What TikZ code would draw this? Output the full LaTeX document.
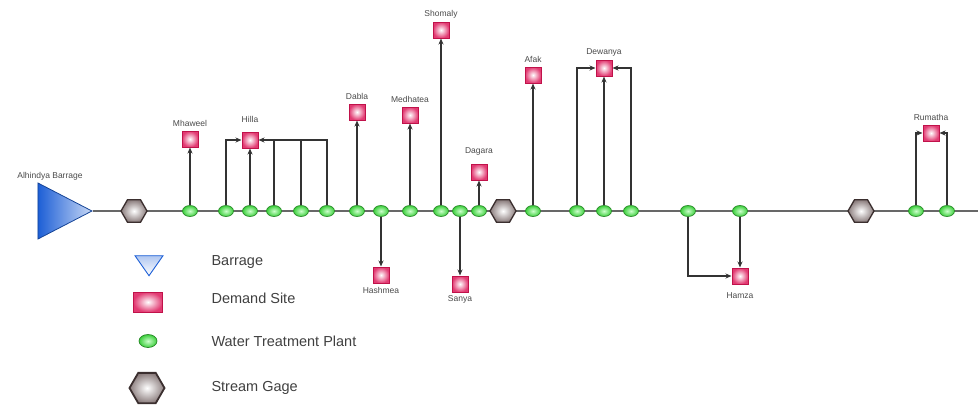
\documentclass[tikz,border=0pt]{standalone}
\usepackage{fontspec}
\setmainfont{Liberation Sans}
\usepackage{tikz}
\usetikzlibrary{positioning,arrows.meta,shapes.geometric,calc}
\usepackage{xcolor}
\definecolor{riverline}{HTML}{686868}
\definecolor{siteborder}{HTML}{C0124A}
\definecolor{sitefill}{HTML}{E23A72}
\definecolor{plantborder}{HTML}{2A8A2A}
\definecolor{plantfill}{HTML}{3CCF3C}
\definecolor{gageborder}{HTML}{3B2F2F}
\definecolor{gagefill}{HTML}{8A7C7C}
\definecolor{barrageblue}{HTML}{1D5FD6}
\definecolor{labelgray}{HTML}{4A4A4A}

\begin{document}
\begin{tikzpicture}[
    x=1pt, y=-1pt,
    font=\fontsize{9}{10}\selectfont,
    river/.style={draw=riverline, line width=2.4pt},
    flow/.style={draw=black!80, line width=1.3pt, -{Stealth[length=6pt,width=5pt]}},
    feed/.style={draw=black!80, line width=1.3pt},
    site/.style={rectangle, draw=siteborder, line width=1pt, inner color=white, outer color=sitefill, minimum size=16pt, inner sep=0pt},
    plant/.style={ellipse, draw=plantborder, line width=0.7pt, inner color=green!20!white, outer color=plantfill, minimum width=15pt, minimum height=11pt, inner sep=0pt},
    gage/.style={regular polygon, regular polygon sides=6, draw=gageborder, line width=1.3pt, inner color=white, outer color=gagefill, minimum size=26pt, inner sep=0pt},
    barrage/.style={isosceles triangle, isosceles triangle stretches, draw=barrageblue!70!black, line width=0.8pt, left color=barrageblue, right color=barrageblue!25!white, inner sep=0pt},
    lbl/.style={text=labelgray, font=\fontsize{8.5}{10}\selectfont},
    legendtext/.style={anchor=west, text=black!75, font=\fontsize{14.5}{16}\selectfont}
]
    \useasboundingbox (0,0) rectangle (978,405);

    % 1. Barrage e asse del fiume
    \node[barrage, shape border rotate=0, minimum width=56pt, minimum height=54pt, anchor=apex] (barrage) at (93,211) {};
    \node[lbl] (barragelabel) at (50,176) {Alhindya Barrage};
    \coordinate (riverend) at (978,211);
    \draw[river] (barrage.apex) -- (riverend);

    % 2. Stream gages
    \node[gage] (g1) at (134,211) {};
    \node[gage] (g2) at (503,211) {};
    \node[gage] (g3) at (861,211) {};

    % 3. Water treatment plants lungo il fiume
    \foreach \x [count=\i] in {190,226,250,274,301,327,357,381,410,441,460,479,533,577,604,631,688,740,916,947}
        \node[plant] (w\i) at (\x,211) {};

    % =========================================================================
    % DEMAND SITES
    % =========================================================================
    \node[site, label={[lbl]above:Mhaweel}] (mhaweel) at (190,139) {};
    \node[site, label={[lbl, label distance=5pt]above:Hilla}] (hilla) at (250,140) {};
    \node[site, label={[lbl]above:Dabla}] (dabla) at (357,112) {};
    \node[site, label={[lbl]above:Medhatea}] (medhatea) at (410,115) {};
    \node[site, label={[lbl]above:Shomaly}] (shomaly) at (441,30) {};
    \node[site, label={[lbl, label distance=5pt]above:Dagara}] (dagara) at (479,172) {};
    \node[site, label={[lbl]below:Hashmea}] (hashmea) at (381,275) {};
    \node[site, label={[lbl]below:Sanya}] (sanya) at (460,284) {};
    \node[site, label={[lbl]above:Afak}] (afak) at (533,75) {};
    \node[site, label={[lbl]above:Dewanya}] (dewanya) at (604,68) {};
    \node[site, label={[lbl, label distance=5pt]below:Hamza}] (hamza) at (740,276) {};
    \node[site, label={[lbl]above:Rumatha}] (rumatha) at (931,133) {};

    % --- Collegamenti WTP -> Demand Site ---
    \draw[flow] (w1) -- (mhaweel);
    \draw[flow] (w2) |- (hilla);
    \draw[flow] (w3) -- (hilla);
    \draw[feed] (w4) -- (w4 |- hilla);
    \draw[feed] (w5) -- (w5 |- hilla);
    \draw[flow] (w6) |- (hilla);
    \draw[flow] (w7) -- (dabla);
    \draw[flow] (w8) -- (hashmea);
    \draw[flow] (w9) -- (medhatea);
    \draw[flow] (w10) -- (shomaly);
    \draw[flow] (w11) -- (sanya);
    \draw[flow] (w12) -- (dagara);
    \draw[flow] (w13) -- (afak);
    \draw[flow] (w14) |- (dewanya);
    \draw[flow] (w15) -- (dewanya);
    \draw[flow] (w16) |- (dewanya);
    \draw[flow] (w17) |- (hamza);
    \draw[flow] (w18) -- (hamza);
    \draw[flow] (w19) |- (rumatha);
    \draw[flow] (w20) |- (rumatha);

    % =========================================================================
    % LEGENDA
    % =========================================================================
    \node[isosceles triangle, isosceles triangle stretches, shape border rotate=-90, minimum width=28pt, minimum height=20pt, inner sep=0pt, draw=barrageblue, line width=0.9pt, top color=barrageblue!35!white, bottom color=white] (legbarrage) at (149,263) {};
    \node[legendtext] (legbarragetext) at (208,262) {Barrage};

    \node[site, minimum width=29pt, minimum height=20pt] (legsite) at (148,302) {};
    \node[legendtext] (legsitetext) at (208,298) {Demand Site};

    \node[plant, minimum width=18pt, minimum height=13pt] (legplant) at (148,341) {};
    \node[legendtext] (legplanttext) at (208,341) {Water Treatment Plant};

    \node[gage, minimum size=35pt, line width=1.8pt] (leggage) at (147,388) {};
    \node[legendtext] (leggagetext) at (208,388) {Stream Gage};

\end{tikzpicture}
\end{document}
